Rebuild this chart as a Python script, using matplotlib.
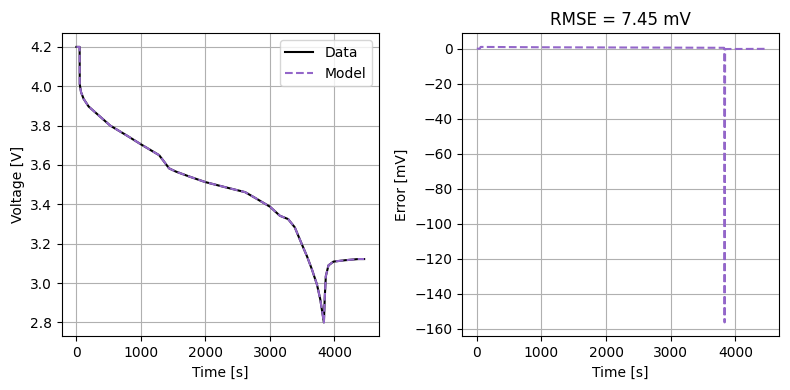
import matplotlib
matplotlib.use('Agg')
import matplotlib.pyplot as plt

time = [0, 50, 52, 72, 112, 190, 318, 525, 780, 1000, 1282, 1359, 1436,
        1538, 1744, 2000, 2308, 2615, 2769, 3000, 3154, 3282, 3385, 3497,
        3574, 3652, 3729, 3780, 3836, 3850, 3866, 3907, 3985, 4165, 4370, 4460]
voltage = [4.2, 4.2, 4.01, 3.97, 3.936, 3.897, 3.86, 3.80, 3.75, 3.705,
           3.65, 3.617, 3.583, 3.567, 3.542, 3.513, 3.487, 3.462, 3.433,
           3.388, 3.342, 3.325, 3.283, 3.195, 3.136, 3.068, 2.992, 2.917,
           2.80, 2.93, 3.035, 3.09, 3.109, 3.116, 3.122, 3.122]

# model output sits on top of the data at this scale
model_voltage = list(voltage)

# model error in mV
err_time = [0, 45, 60, 1000, 2000, 3000, 3825, 3832, 3840, 4450]
err_mv = [0.0, 0.0, 1.0, 0.8, 0.7, 0.6, 0.5, -156.5, -0.2, -0.1]
rmse = 7.45

model_color = '#9366c9'

fig, (ax1, ax2) = plt.subplots(1, 2, figsize=(7.9, 3.9))
fig.subplots_adjust(left=0.0785, right=0.986, top=0.915, bottom=0.138,
                    wspace=0.265)

ax1.plot(time, voltage, color='black', label='Data')
ax1.plot(time, model_voltage, color=model_color, linestyle='--', label='Model')
ax1.set_xlabel('Time [s]')
ax1.set_ylabel('Voltage [V]')
ax1.legend()
ax1.grid(True)

ax2.plot(err_time, err_mv, color=model_color, linestyle='--')
ax2.set_xlabel('Time [s]')
ax2.set_ylabel('Error [mV]')
ax2.set_title(f'RMSE = {rmse:.2f} mV')
ax2.grid(True)

fig.savefig('out.png', dpi=100)
